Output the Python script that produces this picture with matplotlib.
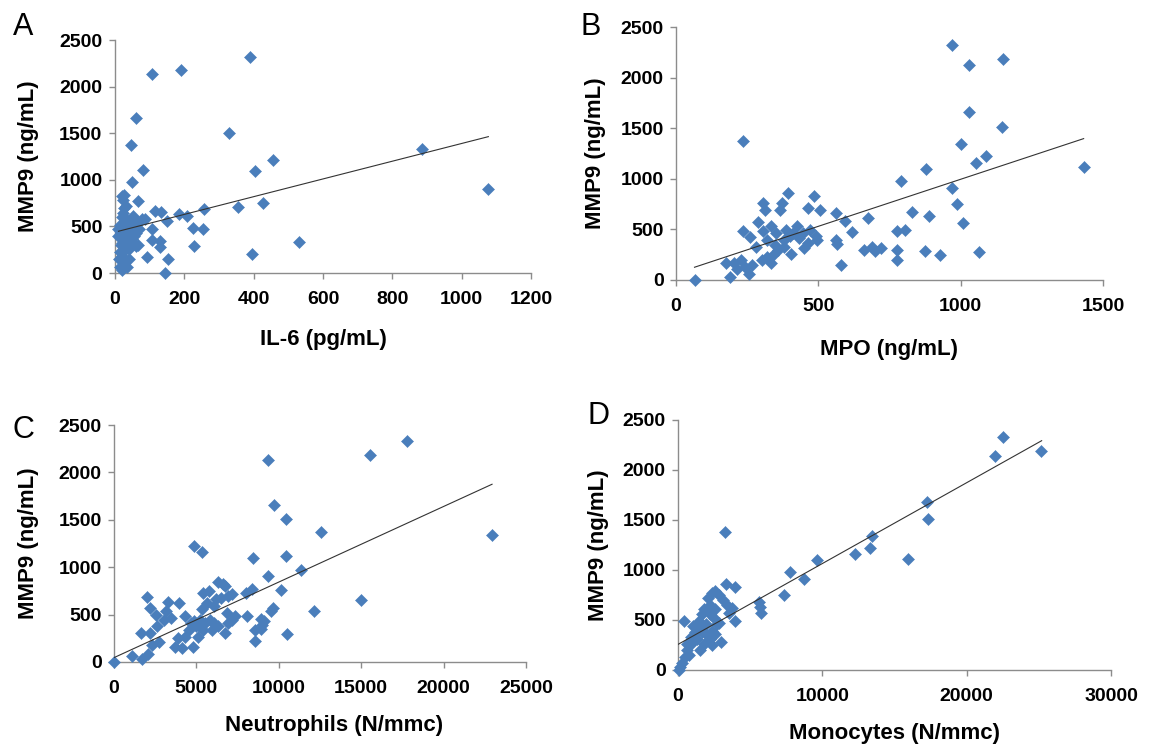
import matplotlib
matplotlib.use("Agg")
import matplotlib.pyplot as plt
import matplotlib.transforms as mtransforms

# ---------------- data ----------------
A_x = [390, 190, 108, 62, 46, 329, 886, 457, 403, 82, 48, 1077, 26, 65, 426, 354, 257, 115, 134, 185,
       208, 87, 151, 226, 254, 108, 108, 130, 532, 131, 229, 92, 396, 152, 144,
       21, 26, 24, 31, 41, 29, 51, 67, 18, 36, 21, 46, 62, 31, 21, 12, 26, 36, 21, 15, 41, 10, 56, 67,
       77, 36, 23, 31, 10, 51, 41, 26, 62, 69, 15, 45, 20, 55, 33, 17, 50, 40, 28, 14]
A_y = [2320, 2180, 2130, 1660, 1375, 1505, 1335, 1215, 1095, 1108, 977, 902, 842, 770, 746, 710, 692, 664, 657, 636,
       611, 582, 557, 483, 476, 469, 352, 344, 334, 284, 291, 167, 202, 150, 0,
       824, 700, 646, 575, 540, 487, 504, 533, 433, 380, 327, 309, 291, 256, 185, 149, 96, 60, 36, 220, 433, 398, 398, 298,
       575, 469, 788, 717, 469, 611, 256, 273, 433, 469, 520, 560, 600, 450, 350, 300, 360, 150, 120, 60]
A_trend_x = [10, 1077]
A_trend_y = [448, 1463]

B_x = [968, 1029, 1148, 1029, 1144, 235, 1000, 1088, 1053, 1433, 879, 789, 968, 987, 828, 889, 1008, 673, 804, 778,
       562, 595, 617, 561, 566, 578, 484, 464, 506, 392, 373, 366, 307, 311, 661, 687, 700, 719, 776, 778,
       876, 926, 1066, 405, 65, 190, 255, 177, 203, 229, 242, 268, 216, 235, 259, 281, 288, 333, 340, 360,
       320, 307, 333, 353, 379, 399, 425, 445, 471, 491, 451, 347, 320, 301, 379, 412, 497, 464, 432, 386]
B_y = [2325, 2129, 2185, 1662, 1507, 1377, 1341, 1225, 1159, 1116, 1099, 983, 911, 755, 669, 629, 563, 613, 497, 480,
       662, 579, 470, 397, 358, 149, 828, 712, 689, 861, 762, 695, 762, 695, 298, 331, 291, 315, 298, 199,
       291, 248, 281, 258, 0, 33, 60, 172, 166, 199, 132, 149, 106, 487, 424, 331, 570, 166, 248, 298,
       397, 480, 530, 464, 397, 430, 530, 464, 497, 430, 315, 348, 232, 199, 331, 464, 397, 364, 414, 497]
B_trend_x = [65, 1432]
B_trend_y = [126, 1397]

C_x = [17780, 15546, 9367, 9692, 10408, 12576, 22940, 4835, 5312, 8456, 10451, 11318, 9367, 10126, 15004, 12142,
       10516, 8565, 1995, 3252, 3946, 2168, 2537, 4293, 1626, 1084, 0, 1691, 2060, 2277, 2711, 2168, 2602,
       3036, 3144, 3469, 3686, 3903, 4119, 4770, 4336, 4553, 4878, 5095, 5420, 5529, 5312, 5637, 5420, 5745,
       6287, 6612, 6721, 6179, 6504, 6938, 7155, 6070, 6829, 7155, 7372, 6938, 6721, 6287, 5963, 5854, 6070,
       5204, 4987, 4661, 8023, 8348, 8088, 8565, 8999, 8890, 9107, 9497, 9649, 8934]
C_y = [2329, 2186, 2132, 1661, 1511, 1375, 1339, 1225, 1161, 1100, 1114, 975, 904, 761, 657, 536,
       293, 225, 689, 636, 621, 571, 500, 489, 304, 64, 0, 36, 89, 179, 214, 304, 375,
       446, 536, 464, 161, 250, 143, 161, 268, 339, 429, 268, 339, 411, 554, 625, 732, 750,
       846, 821, 804, 661, 679, 696, 714, 589, 518, 446, 482, 411, 304, 375, 339, 446, 411,
       446, 375, 411, 725, 768, 482, 339, 393, 454, 429, 536, 571, 346]
C_trend_x = [0, 22940]
C_trend_y = [46, 1875]

D_x = [22545, 21948, 25143, 17221, 17325, 3247, 13429, 13299, 12260, 15922, 9662, 7740, 8753, 7351, 5584, 5662,
       5766, 3299, 3974, 3974, 3506, 390, 2987, 1558, 779, 130, 50, 260, 519, 649, 909, 1299, 1169, 1039,
       1429, 1688, 1818, 2208, 2078, 2338, 2597, 2857, 3117, 3377, 3766, 1948, 2338, 2208, 2597, 1688, 1558,
       2727, 2467, 2857, 2208, 2597, 1299, 909, 597, 1948, 2338, 1818]
D_y = [2333, 2136, 2189, 1678, 1507, 1383, 1337, 1222, 1163, 1114, 1104, 983, 908, 754, 682, 629,
       567, 858, 826, 492, 573, 492, 279, 197, 147, 33, 0, 66, 131, 197, 262, 311, 377, 442,
       492, 557, 606, 655, 721, 770, 786, 754, 704, 655, 622, 459, 393, 311, 360, 377, 426,
       459, 524, 475, 557, 606, 393, 328, 262, 360, 246, 262]
D_trend_x = [0, 25195]
D_trend_y = [256, 2293]

panels = [
    dict(letter="A", x=A_x, y=A_y, tx=A_trend_x, ty=A_trend_y, xlabel="IL-6 (pg/mL)",
         xlim=(0, 1200), xstep=200, rect_px=(115, 40, 531, 273), ylab_px=29, xlab_py=340,
         xlab_ax=0.5, letter_px=(23, 27)),
    dict(letter="B", x=B_x, y=B_y, tx=B_trend_x, ty=B_trend_y, xlabel="MPO (ng/mL)",
         xlim=(0, 1500), xstep=500, rect_px=(676, 27, 1103, 280), ylab_px=595, xlab_py=349,
         xlab_ax=0.5, letter_px=(591, 27)),
    dict(letter="C", x=C_x, y=C_y, tx=C_trend_x, ty=C_trend_y, xlabel="Neutrophils (N/mmc)",
         xlim=(0, 25000), xstep=5000, rect_px=(114, 425, 526, 662), ylab_px=29, xlab_py=726,
         xlab_ax=0.535, letter_px=(23, 430)),
    dict(letter="D", x=D_x, y=D_y, tx=D_trend_x, ty=D_trend_y, xlabel="Monocytes (N/mmc)",
         xlim=(0, 30000), xstep=10000, rect_px=(678, 420, 1111, 670), ylab_px=599, xlab_py=733,
         xlab_ax=0.5, letter_px=(599, 416)),
]

W, H = 1154, 745
fig = plt.figure(figsize=(W / 100, H / 100), dpi=100)
fig.patch.set_facecolor("white")

FONT = "Liberation Sans"
blue = "#4a7ebb"
grey = "#8c8c8c"

for p in panels:
    l, t, r, b = p["rect_px"]
    ax = fig.add_axes([l / W, 1 - b / H, (r - l) / W, (b - t) / H])
    ax.plot(p["x"], p["y"], ls="none", marker="D", ms=6.3, mfc=blue, mec=blue, mew=0.4, clip_on=False, zorder=3)
    ax.plot(p["tx"], p["ty"], color="#333333", lw=0.8, zorder=4)
    ax.set_xlim(*p["xlim"])
    ax.set_ylim(0, 2500)
    ax.set_xticks(list(range(p["xlim"][0], p["xlim"][1] + 1, p["xstep"])))
    ax.set_yticks([0, 500, 1000, 1500, 2000, 2500])
    for s in ("top", "right"):
        ax.spines[s].set_visible(False)
    for s in ("left", "bottom"):
        ax.spines[s].set_color(grey)
        ax.spines[s].set_linewidth(1.0)
    ax.tick_params(axis="both", direction="out", length=4, width=1.0, color=grey,
                   labelsize=14, labelcolor="black")
    ax.tick_params(axis="x", pad=9)
    ax.tick_params(axis="y", pad=5)
    for lab in ax.get_xticklabels() + ax.get_yticklabels():
        lab.set_fontfamily(FONT)
        lab.set_fontweight("bold")
    ax.set_xlabel(p["xlabel"], fontsize=16, fontweight="bold", family=FONT, va="center")
    ax.set_ylabel("MMP9 (ng/mL)", fontsize=16, fontweight="bold", family=FONT, va="center")
    tr_x = mtransforms.blended_transform_factory(ax.transAxes, fig.transFigure)
    ax.xaxis.set_label_coords(p["xlab_ax"], 1 - p["xlab_py"] / H, transform=tr_x)
    tr_y = mtransforms.blended_transform_factory(fig.transFigure, ax.transAxes)
    ax.yaxis.set_label_coords(p["ylab_px"] / W, 0.5, transform=tr_y)
    lx, ly = p["letter_px"]
    fig.text(lx / W, 1 - ly / H, p["letter"], fontsize=22, family=FONT, ha="center", va="center")

fig.savefig("out.png", dpi=100, facecolor="white")
